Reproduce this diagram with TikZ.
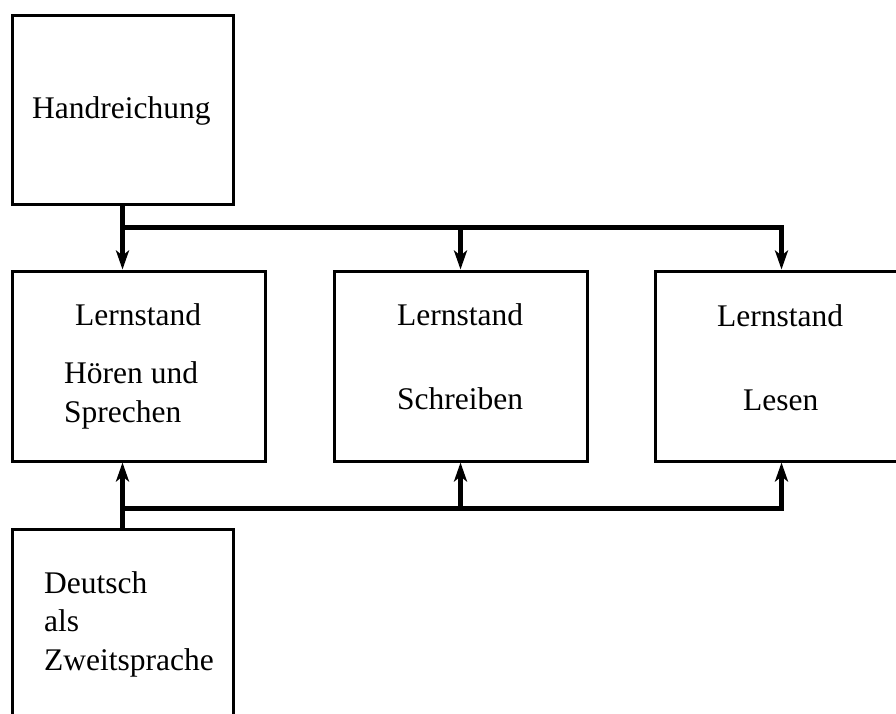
\documentclass[tikz,border=0pt]{standalone}
\usepackage{fontspec}
\setmainfont{Liberation Serif}
\usetikzlibrary{arrows.meta}

\begin{document}
\begin{tikzpicture}[
  x=1pt,y=-1pt,
  font=\fontsize{31.5}{38.5}\selectfont,
  frame/.style={draw=black,line width=3pt,fill=white,inner sep=0pt},
  lernbox/.style={frame,minimum width=253pt,minimum height=190pt},
  label/.style={anchor=base west,inner sep=0pt,align=left},
  arrow/.style={line width=5pt,-{Stealth[length=19pt,width=13pt,inset=5pt]}},
  bus/.style={line width=5pt}
]
\path[use as bounding box] (0,0) rectangle (896,713);
\clip (0,0) rectangle (896,713);

\node[frame,minimum width=221pt,minimum height=189pt] (hand) at (122.5,109.5) {};
\node[lernbox] (lern1) at (138.5,366) {};
\node[lernbox] (lern2) at (460.5,366) {};
\node[lernbox] (lern3) at (781.5,366) {};
\node[frame,minimum width=221pt,minimum height=211pt] (daz) at (122.5,634.5) {};

% base of a multi-line label is its last line
\node[label] (t-hand) at (32,118) {Handreichung};
\node[label] (t-lern1) at (75,325) {Lernstand};
\node[label] (t-hoeren) at (64,422) {Hören und\\Sprechen};
\node[label] (t-lern2) at (397,325) {Lernstand};
\node[label] (t-schreiben) at (397,409) {Schreiben};
\node[label] (t-lern3) at (717,326) {Lernstand};
\node[label] (t-lesen) at (743,410) {Lesen};
\node[label] (t-daz) at (44,670) {Deutsch\\als\\Zweitsprache};

\coordinate (topbus) at (122.5,227);
\draw[arrow] (hand.south) -- (hand.south |- lern1.north);
\draw[arrow] (topbus) -| (lern3.north);
\draw[arrow] (topbus -| lern2.north) -- (lern2.north);

\coordinate (botbus) at (122.5,508);
\draw[arrow] (daz.north) -- (daz.north |- lern1.south);
\draw[arrow] (botbus) -| (lern3.south);
\draw[arrow] (botbus -| lern2.south) -- (lern2.south);

\end{tikzpicture}
\end{document}
